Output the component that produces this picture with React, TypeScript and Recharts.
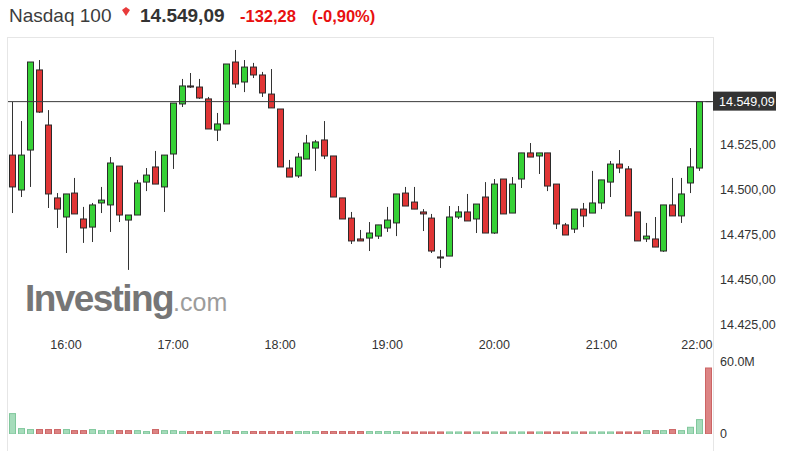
import React from 'react';
import { ComposedChart, Bar, XAxis, YAxis, ReferenceLine } from 'recharts';

// 5-minute candles, 15:30 .. 22:00
const opens = [
  14519.4, 14500.0, 14522.2, 14566.7, 14536.1, 14495.6, 14485.0, 14498.3, 14483.9, 14479.4,
  14492.8, 14491.7, 14513.3, 14483.3, 14486.1, 14504.4, 14512.8, 14501.7, 14520.0, 14547.8,
  14557.8, 14557.2, 14550.6, 14533.3, 14536.7, 14571.1, 14560.0, 14568.3, 14563.9, 14553.3,
  14545.0, 14512.2, 14507.8, 14517.2, 14523.3, 14527.8, 14518.9, 14495.6, 14484.4, 14472.8,
  14473.3, 14474.4, 14478.9, 14481.7, 14498.3, 14493.3, 14487.8, 14484.4, 14462.8, 14463.3,
  14485.0, 14487.8, 14483.9, 14496.1, 14476.1, 14506.1, 14487.2, 14506.1, 14520.6, 14518.9,
  14520.6, 14503.3, 14480.6, 14478.3, 14489.4, 14487.2, 14492.8, 14504.4, 14514.4, 14511.7,
  14487.8, 14472.8, 14472.8, 14466.1, 14491.7, 14485.6, 14503.9, 14512.2, 14549.09,
];
const highs = [
  14548.9, 14538.3, 14571.1, 14572.2, 14544.4, 14498.3, 14497.8, 14506.7, 14490.6, 14492.8,
  14501.7, 14518.3, 14513.3, 14486.1, 14505.6, 14512.2, 14521.7, 14519.4, 14548.3, 14561.7,
  14565.0, 14561.7, 14551.7, 14542.8, 14570.0, 14577.8, 14572.2, 14570.6, 14565.6, 14567.2,
  14545.0, 14516.7, 14520.6, 14530.6, 14527.8, 14538.3, 14518.9, 14495.6, 14487.8, 14477.8,
  14482.2, 14480.6, 14490.6, 14497.8, 14501.7, 14501.7, 14489.4, 14486.7, 14466.7, 14491.1,
  14491.1, 14497.8, 14492.2, 14504.4, 14506.1, 14506.1, 14507.2, 14520.6, 14526.1, 14520.6,
  14520.6, 14503.3, 14481.7, 14489.4, 14492.8, 14510.6, 14505.6, 14516.1, 14522.2, 14513.3,
  14487.8, 14481.7, 14485.0, 14491.7, 14506.7, 14506.7, 14523.3, 14549.09, 14549.09,
];
const lows = [
  14487.2, 14496.1, 14501.7, 14542.8, 14490.0, 14478.9, 14465.0, 14486.7, 14470.6, 14471.1,
  14487.2, 14476.7, 14482.2, 14455.6, 14486.1, 14499.4, 14503.3, 14487.8, 14511.7, 14546.1,
  14556.7, 14550.6, 14533.9, 14527.2, 14536.7, 14556.7, 14554.4, 14562.2, 14551.7, 14545.6,
  14512.8, 14507.2, 14506.7, 14517.2, 14510.6, 14517.2, 14496.1, 14483.9, 14470.0, 14471.7,
  14466.1, 14472.8, 14476.7, 14474.4, 14491.1, 14489.4, 14477.2, 14465.0, 14456.7, 14463.3,
  14483.9, 14482.8, 14476.1, 14476.1, 14475.6, 14486.7, 14487.2, 14501.1, 14518.3, 14508.9,
  14499.4, 14478.3, 14475.0, 14476.1, 14479.4, 14487.2, 14489.4, 14496.1, 14509.4, 14485.6,
  14471.7, 14471.1, 14468.3, 14465.6, 14485.6, 14481.7, 14498.3, 14510.6, 14549.09,
];
const closes = [
  14501.7, 14519.4, 14571.1, 14543.3, 14497.8, 14489.4, 14497.8, 14486.7, 14478.9, 14491.7,
  14494.4, 14515.0, 14486.1, 14486.1, 14503.9, 14508.3, 14503.3, 14519.4, 14548.3, 14557.8,
  14557.2, 14551.1, 14533.9, 14536.7, 14570.0, 14558.9, 14568.3, 14563.9, 14553.9, 14545.6,
  14512.8, 14507.2, 14518.3, 14526.1, 14526.7, 14518.9, 14496.1, 14483.9, 14471.7, 14471.7,
  14476.1, 14480.6, 14483.3, 14497.8, 14491.1, 14489.4, 14486.7, 14466.1, 14462.2, 14485.0,
  14487.8, 14482.8, 14492.2, 14476.1, 14503.3, 14486.7, 14503.3, 14520.6, 14518.3, 14520.6,
  14502.2, 14481.1, 14475.0, 14489.4, 14485.6, 14492.8, 14505.6, 14514.4, 14512.2, 14485.6,
  14471.7, 14474.4, 14468.3, 14491.7, 14485.6, 14497.8, 14512.8, 14549.09, 14549.09,
];
// volume in millions
const volumes = [
  17, 4.5, 3.7, 3.7, 3.7, 3.7, 3.7, 2.8, 2.8, 3.7,
  2.8, 2.8, 2.8, 2.8, 2.8, 2.0, 3.7, 2.8, 2.8, 2.0,
  2.0, 2.0, 2.0, 2.0, 2.8, 2.0, 2.0, 2.0, 2.0, 2.0,
  2.0, 2.0, 2.0, 2.0, 2.0, 2.0, 2.0, 2.0, 2.0, 2.0,
  2.0, 2.0, 2.0, 2.0, 1.7, 1.7, 1.7, 1.7, 1.7, 1.7,
  1.7, 1.7, 1.7, 1.7, 1.7, 1.7, 1.7, 1.7, 1.7, 1.7,
  1.7, 1.7, 1.7, 1.7, 1.7, 1.7, 1.7, 1.7, 1.7, 1.7,
  1.7, 2.8, 2.8, 2.8, 3.7, 2.8, 5.6, 12, 55,
];

const timeTicks = [6, 18, 30, 42, 54, 66, 78];
const timeLabels = ['16:00', '17:00', '18:00', '19:00', '20:00', '21:00', '22:00'];
const priceTicks = [14425, 14450, 14475, 14500, 14525];
const lastPrice = 14549.09;
const volTicks = [0, 60];

const data = opens.map((o, i) => ({
  i,
  open: o,
  high: highs[i],
  low: lows[i],
  close: closes[i],
  vol: volumes[i],
  up: i === 0 || closes[i] > closes[i - 1],
}));

const FONT = '"Liberation Sans", Arial, sans-serif';
const GREEN = '#36d136';
const RED = '#e03535';

const fmtPrice = (v: number) => {
  const [int, dec] = v.toFixed(2).split('.');
  return int.replace(/\B(?=(\d{3})+(?!\d))/g, '.') + ',' + dec;
};

const Candle = (props: any) => {
  const { x, y, width, height, payload } = props;
  const cx = Math.round(x + width / 2) + 0.5;
  const top = Math.min(y, y + height);
  const h = Math.abs(height);
  const range = payload.high - payload.low;
  // flat candle (closing auction) sits on the last-price line
  if (range <= 0) {
    return <line x1={cx - 3} x2={cx + 3} y1={top} y2={top} stroke="#3a3a3a" strokeWidth={1} />;
  }
  const k = h / range;
  const bodyTop = top + (payload.high - Math.max(payload.open, payload.close)) * k;
  const bodyBot = top + (payload.high - Math.min(payload.open, payload.close)) * k;
  const up = payload.close >= payload.open;
  return (
    <g>
      <line x1={cx} x2={cx} y1={top} y2={top + h} stroke="#333" strokeWidth={1} />
      <rect
        x={cx - 3}
        y={bodyTop}
        width={6}
        height={Math.max(bodyBot - bodyTop, 1)}
        fill={up ? GREEN : RED}
        stroke="#2b2b2b"
        strokeWidth={1}
      />
    </g>
  );
};

const VolBar = (props: any) => {
  const { x, y, width, height, payload } = props;
  const cx = Math.round(x + width / 2) + 0.5;
  return (
    <rect
      x={cx - 3}
      y={y}
      width={6}
      height={Math.max(height, 1)}
      fill={payload.up ? '#a6dcbb' : '#dc8484'}
      stroke={payload.up ? '#80c79c' : '#cc6464'}
      strokeWidth={1}
    />
  );
};

const PriceTick = (props: any) => {
  const { x, y, payload } = props;
  const v = payload.value;
  if (v === lastPrice) {
    return (
      <g>
        <rect x={x - 7} y={y - 10} width={63} height={19} fill="#333" />
        <text x={x - 1} y={y} dy="0.355em" fill="#fff" fontSize={12.5} fontFamily={FONT}>
          {fmtPrice(v)}
        </text>
      </g>
    );
  }
  return (
    <text x={x} y={y} dy="0.355em" fill="#333" fontSize={12.5} fontFamily={FONT}>
      {fmtPrice(v)}
    </text>
  );
};

const TimeTick = (props: any) => {
  const { x, y, payload } = props;
  const idx = timeTicks.indexOf(payload.value);
  const last = idx === timeTicks.length - 1;
  return (
    <text
      x={last ? x + 4 : x}
      y={y}
      dy="0.71em"
      textAnchor={last ? 'end' : 'middle'}
      fill="#333"
      fontSize={12.5}
      fontFamily={FONT}
    >
      {timeLabels[idx]}
    </text>
  );
};

const VolTick = (props: any) => {
  const { x, y, payload } = props;
  return (
    <text x={x} y={y} dy="0.355em" fill="#333" fontSize={12.5} fontFamily={FONT}>
      {payload.value === 0 ? '0' : payload.value.toFixed(1) + 'M'}
    </text>
  );
};

const abs = (left: number, top: number): React.CSSProperties => ({ position: 'absolute', left, top });

export default function App() {
  return (
    <div style={{ position: 'fixed', left: 0, top: 0, width: 797, height: 461, background: '#fff', fontFamily: FONT, overflow: 'hidden' }}>
      {/* header */}
      <span style={{ ...abs(9, 5), fontSize: 19, color: '#3c3c3c', whiteSpace: 'nowrap' }}>Nasdaq 100</span>
      <svg style={abs(121, 7)} width={10} height={10}>
        <path d="M1 3 L5 0 L9 3 L5 9 Z" fill="#e83b3b" />
      </svg>
      <span style={{ ...abs(140, 5), fontSize: 19, fontWeight: 'bold', color: '#333', whiteSpace: 'nowrap' }}>14.549,09</span>
      <span style={{ ...abs(240, 7), fontSize: 16.5, fontWeight: 'bold', color: '#e81010', whiteSpace: 'nowrap' }}>-132,28</span>
      <span style={{ ...abs(312, 7), fontSize: 16.5, fontWeight: 'bold', color: '#e81010', whiteSpace: 'nowrap' }}>(-0,90%)</span>

      {/* frame */}
      <div style={{ ...abs(7, 37), width: 707, height: 414, boxSizing: 'border-box', borderTop: '1px solid #e6e6e6', borderLeft: '1px solid #e6e6e6', borderRight: '1px solid #e6e6e6' }} />

      {/* watermark */}
      <div style={{ ...abs(25, 280), whiteSpace: 'nowrap', lineHeight: 1 }}>
        <span style={{ fontSize: 37, fontWeight: 'bold', letterSpacing: -1.6, color: '#767676' }}>Investing</span>
        <span style={{ fontSize: 25, color: '#9c9c9c' }}>.com</span>
      </div>

      {/* price panel */}
      <div style={abs(0, 0)}>
        <ComposedChart width={797} height={360} data={data} margin={{ top: 37, right: 0, left: 8, bottom: 0 }}>
          <XAxis
            type="number"
            dataKey="i"
            domain={[-0.5, 78.5]}
            ticks={timeTicks}
            interval={0}
            tick={<TimeTick />}
            axisLine={false}
            tickLine={false}
            tickSize={0}
            tickMargin={6}
            height={26}
            allowDataOverflow
          />
          <YAxis
            type="number"
            orientation="right"
            width={84}
            domain={[14420, 14585]}
            ticks={[...priceTicks, lastPrice]}
            interval={0}
            tick={<PriceTick />}
            axisLine={false}
            tickLine={false}
            tickSize={0}
            tickMargin={7}
            allowDataOverflow
          />
          <ReferenceLine y={lastPrice} stroke="#3a3a3a" strokeWidth={1} />
          <Bar
            dataKey={(d: any) => [d.low, d.high]}
            barSize={6}
            shape={<Candle />}
            isAnimationActive={false}
          />
        </ComposedChart>
      </div>

      {/* volume panel */}
      <div style={abs(0, 352)}>
        <ComposedChart width={797} height={100} data={data} margin={{ top: 10, right: 0, left: 8, bottom: 18 }}>
          <XAxis type="number" dataKey="i" domain={[-0.5, 78.5]} hide allowDataOverflow />
          <YAxis
            type="number"
            orientation="right"
            width={84}
            domain={[0, 60]}
            ticks={volTicks}
            interval={0}
            tick={<VolTick />}
            axisLine={false}
            tickLine={false}
            tickSize={0}
            tickMargin={7}
            allowDataOverflow
          />
          <Bar dataKey="vol" barSize={6} shape={<VolBar />} isAnimationActive={false} />
        </ComposedChart>
      </div>
    </div>
  );
}
